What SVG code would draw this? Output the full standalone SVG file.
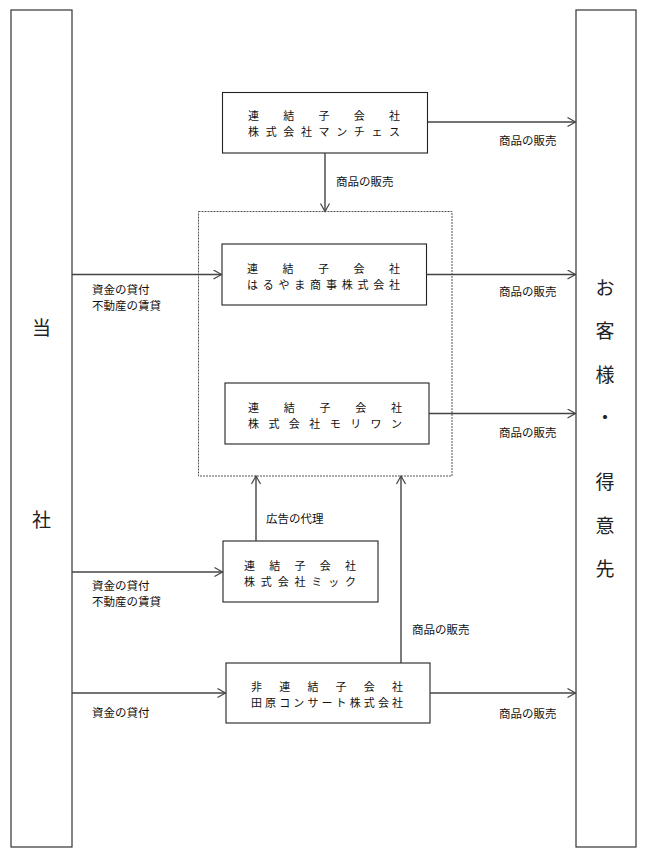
<svg xmlns="http://www.w3.org/2000/svg" width="648" height="864" viewBox="0 0 648 864">
<defs>
<style>
.bar{fill:#fff;stroke:#333;stroke-width:1.2}
.box{fill:#fff;stroke:#222;stroke-width:1.1}
.grp{fill:none;stroke:#555;stroke-width:1;stroke-dasharray:2 1}
.con{fill:none;stroke:#444;stroke-width:1.4;marker-end:url(#arr)}
.bt{font-family:"Noto Sans CJK JP","Noto Sans CJK SC",sans-serif;font-size:11px;fill:#111;dominant-baseline:central}
.lb{font-family:"Noto Sans CJK JP","Noto Sans CJK SC",sans-serif;font-size:11.5px;fill:#111;dominant-baseline:central}
.big{font-family:"Liberation Serif","Noto Sans CJK JP",serif;font-size:19px;fill:#222;text-anchor:middle;dominant-baseline:central}
</style>
<marker id="arr" markerUnits="userSpaceOnUse" markerWidth="12" markerHeight="12" refX="9" refY="5" orient="auto">
<path d="M1,0.5 L9,5 L1,9.5" fill="none" stroke="#444" stroke-width="1.2"/>
</marker>
</defs>

<g id="tousha">
<rect class="bar" x="11" y="10" width="61" height="837"/>
<text class="big" x="41.5" y="328">当</text>
<text class="big" x="41.5" y="520">社</text>
</g>

<g id="customers">
<rect class="bar" x="576" y="10" width="60" height="837"/>
<text class="big" x="605" y="288">お</text>
<text class="big" x="605" y="331">客</text>
<text class="big" x="605" y="375">様</text>
<text class="big" x="605" y="418">・</text>
<text class="big" x="605" y="482">得</text>
<text class="big" x="605" y="526">意</text>
<text class="big" x="605" y="569">先</text>
</g>

<g id="group-dashed">
<rect class="grp" x="198.5" y="211.5" width="253.5" height="264.5"/>
</g>

<g id="manchester">
<rect class="box" x="222.5" y="92.5" width="205" height="60.5"/>
<text class="bt" x="248" y="115" textLength="152" lengthAdjust="spacing">連結子会社</text>
<text class="bt" x="248" y="131" textLength="152" lengthAdjust="spacing">株式会社マンチェス</text>
</g>

<g id="haruyama">
<rect class="box" x="222" y="244" width="204.5" height="61"/>
<text class="bt" x="247" y="268" textLength="153" lengthAdjust="spacing">連結子会社</text>
<text class="bt" x="247" y="284" textLength="153" lengthAdjust="spacing">はるやま商事株式会社</text>
</g>

<g id="moriwan">
<rect class="box" x="225" y="383" width="204" height="61"/>
<text class="bt" x="248" y="407" textLength="154" lengthAdjust="spacing">連結子会社</text>
<text class="bt" x="248" y="423" textLength="154" lengthAdjust="spacing">株式会社モリワン</text>
</g>

<g id="mick">
<rect class="box" x="223" y="541" width="155" height="61"/>
<text class="bt" x="244" y="565" textLength="112" lengthAdjust="spacing">連結子会社</text>
<text class="bt" x="244" y="581" textLength="112" lengthAdjust="spacing">株式会社ミック</text>
</g>

<g id="tahara">
<rect class="box" x="226" y="663" width="204" height="60"/>
<text class="bt" x="251" y="686" textLength="152" lengthAdjust="spacing">非連結子会社</text>
<text class="bt" x="251" y="702" textLength="152" lengthAdjust="spacing">田原コンサート株式会社</text>
</g>

<g id="connectors">
<line class="con" x1="428" y1="122" x2="575.5" y2="122"/>
<line class="con" x1="325" y1="153" x2="325" y2="211.5"/>
<line class="con" x1="72" y1="274.5" x2="221.5" y2="274.5"/>
<line class="con" x1="426.5" y1="274.5" x2="575.5" y2="274.5"/>
<line class="con" x1="429" y1="413.5" x2="575.5" y2="413.5"/>
<line class="con" x1="256" y1="541" x2="256" y2="476"/>
<line class="con" x1="72" y1="572" x2="222.5" y2="572"/>
<line class="con" x1="401" y1="663" x2="401" y2="476"/>
<line class="con" x1="72" y1="693" x2="225.5" y2="693"/>
<line class="con" x1="430" y1="693" x2="575.5" y2="693"/>
</g>

<g id="labels">
<text class="lb" x="499" y="140">商品の販売</text>
<text class="lb" x="336" y="181">商品の販売</text>
<text class="lb" x="92" y="289">資金の貸付</text>
<text class="lb" x="92" y="305">不動産の賃貸</text>
<text class="lb" x="499" y="291">商品の販売</text>
<text class="lb" x="499" y="432">商品の販売</text>
<text class="lb" x="266" y="518">広告の代理</text>
<text class="lb" x="92" y="585">資金の貸付</text>
<text class="lb" x="92" y="601">不動産の賃貸</text>
<text class="lb" x="412" y="629">商品の販売</text>
<text class="lb" x="92" y="712">資金の貸付</text>
<text class="lb" x="499" y="713">商品の販売</text>
</g>
</svg>
